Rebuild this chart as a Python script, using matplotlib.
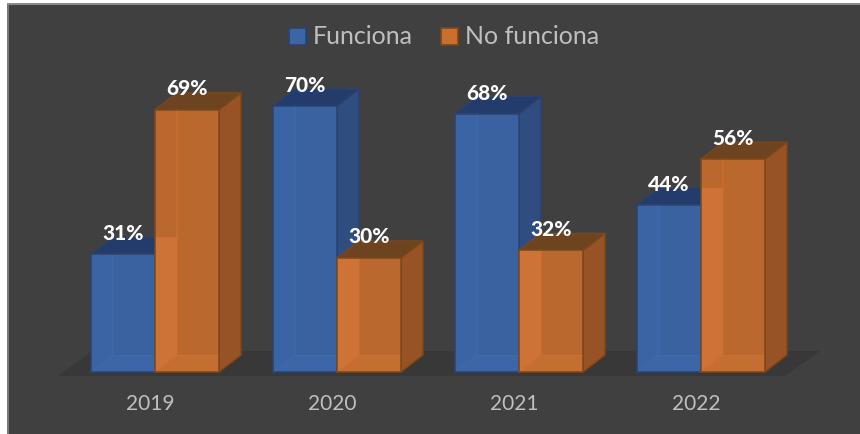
import matplotlib
matplotlib.use("Agg")
import matplotlib.pyplot as plt
from matplotlib.patches import Polygon, Rectangle

years = ["2019", "2020", "2021", "2022"]
funciona = [31, 70, 68, 44]
no_funciona = [69, 30, 32, 56]
series_names = ["Funciona", "No funciona"]

W, H = 860, 435
BG = "#404040"
PXX = 182.0
PXY = 3.8
X0 = 155.0
Y0 = 373.0
BW = 64 / PXX
DX = 22 / PXX
DY = 17 / PXY

plt.rcParams["font.family"] = ["Lato", "DejaVu Sans"]
fig = plt.figure(figsize=(W / 100, H / 100), dpi=100, facecolor="white")
ax = fig.add_axes([0, 0, 1, 1])
ax.set_xlim(-X0 / PXX, (W - X0) / PXX)
ax.set_ylim((Y0 - H) / PXY, Y0 / PXY)
ax.axis("off")

def fx(px):
    return (px - X0) / PXX
def fy(py):
    return (Y0 - py) / PXY

# background and the grey strip on the top and left
ax.add_patch(Rectangle((fx(7), fy(H)), (W - 7) / PXX, (H - 4) / PXY, fc=BG, ec="none", zorder=0))
ax.add_patch(Rectangle((fx(7), fy(H)), 2 / PXX, (H - 4) / PXY, fc="#787878", ec="none", zorder=0.5))
ax.add_patch(Rectangle((fx(7), fy(5.5)), (W - 7) / PXX, 1.5 / PXY, fc="#8a8a8a", ec="none", zorder=0.5))

# floor
ax.add_patch(Polygon([(fx(58), fy(377)), (fx(785), fy(377)), (fx(820), fy(352)), (fx(92), fy(352))],
                     fc="#383838", ec="none", zorder=1))

def bar3d(x, v, lit_h, main, strip, floor, side, top, edge, inner, z):
    l, r = x, x + BW
    ax.add_patch(Polygon([(r, 0), (r + DX, DY), (r + DX, v + DY), (r, v)], fc=side, ec=edge, lw=1, zorder=z))
    ax.add_patch(Polygon([(l, v), (r, v), (r + DX, v + DY), (l + DX, v + DY)], fc=top, ec=edge, lw=1, zorder=z))
    ax.add_patch(Rectangle((l, 0), BW, v, fc=main, ec="none", zorder=z + 0.1))
    h = min(v, lit_h)
    ax.add_patch(Polygon([(l, 0), (l + DX, DY), (l + DX, h), (l, h)], fc=strip, ec="none", zorder=z + 0.2))
    ax.add_patch(Polygon([(l, 0), (r, 0), (r, DY), (l + DX, DY)], fc=floor, ec="none", zorder=z + 0.2))
    ax.plot([l, l + DX, l + DX], [0, DY, v], color=inner, lw=0.8, zorder=z + 0.25)
    ax.plot([l + DX, r], [DY, DY], color=inner, lw=0.8, zorder=z + 0.25)
    ax.add_patch(Rectangle((l, 0), BW, v, fc="none", ec=edge, lw=1.1, zorder=z + 0.3))

for i, y in enumerate(years):
    bar3d(i - BW, funciona[i], funciona[i], "#3a62a0", "#3b64a5", "#3c66a8", "#2f4d80", "#233c6c", "#2b4270", "#3f6ab0", 2)
    bar3d(i, no_funciona[i], funciona[i] + DY, "#bb682e", "#cd7338", "#c56e32", "#975325", "#6e431f", "#7d4719", "#d0702e", 3)
    ax.text(i - 5 / PXX, fy(404), y, ha="center", va="center", fontsize=15, color="#bfbfbf", zorder=6)
    ax.text(i - BW / 2, funciona[i] + 5.6, f"{funciona[i]}%", ha="center", va="center", fontsize=15,
            fontweight="black", color="white", zorder=6)
    ax.text(i + BW / 2, no_funciona[i] + 5.8, f"{no_funciona[i]}%", ha="center", va="center", fontsize=15,
            fontweight="black", color="white", zorder=6)

# legend
for px, name, fc, ec in [(289, series_names[0], "#3c65a5", "#2b4270"), (441, series_names[1], "#c96f30", "#7d4719")]:
    ax.add_patch(Rectangle((fx(px), fy(46)), 17 / PXX, 17 / PXY, fc=fc, ec=ec, lw=1.2, zorder=6))
    ax.text(fx(px + 24), fy(36), name, ha="left", va="center", fontsize=18, color="#bfbfbf", zorder=6)

fig.savefig("out.png", dpi=100, facecolor="white")
